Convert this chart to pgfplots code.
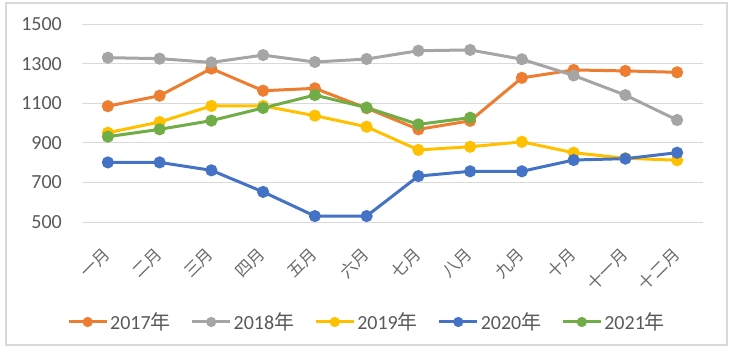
\documentclass[border=0pt]{standalone}
\usepackage{pgfplots}
\pgfplotsset{compat=1.18}
\usepackage{fontspec}
\setmainfont{Carlito}
\newfontfamily\cjk{Noto Sans CJK SC}
\definecolor{c17}{HTML}{ED7D31}
\definecolor{c18}{HTML}{A5A5A5}
\definecolor{c19}{HTML}{FFC000}
\definecolor{c20}{HTML}{4472C4}
\definecolor{c21}{HTML}{70AD47}
\definecolor{gridc}{HTML}{D9D9D9}
\definecolor{txt}{HTML}{595959}
\definecolor{txtl}{HTML}{6A6A6A}
\begin{document}
\begin{tikzpicture}
\path (-82pt,-135pt) rectangle (650pt,222pt);
\draw[gridc, line width=1.2pt] (-76pt,-123pt) rectangle (645pt,219pt);
\begin{axis}[
  scale only axis, width=621pt, height=198pt,
  xmin=-0.5, xmax=11.5, ymin=500, ymax=1500,
  ytick={500,700,...,1500},
  xtick={0,...,11},
  xticklabels={一月,二月,三月,四月,五月,六月,七月,八月,九月,十月,十一月,十二月},
  ymajorgrids, major grid style={draw=gridc, line width=1pt},
  axis line style={draw=none}, tick style={draw=none},
  /pgf/number format/assume math mode=true,
  /pgf/number format/1000 sep={},
  yticklabel style={font=\fontsize{20}{24}\selectfont, text=txt, anchor=east, inner sep=0pt, xshift=-20pt},
  xticklabel style={font=\cjk\fontsize{16.5}{19}\selectfont, text=txtl, xshift=-6pt, yshift=-24pt, rotate=45, anchor=north east, inner sep=0pt},
  clip=false,
  every axis plot/.append style={line width=3pt, mark=*, mark size=4.5pt},
  legend columns=5,
  legend style={draw=none, fill=none, at={(0.459,-0.505)}, anchor=center,
    font=\fontsize{20}{24}\selectfont, text=txt,
    /tikz/every even column/.append style={column sep=18pt}},
  legend image code/.code={\draw[mark repeat=2, mark phase=2, mark size=3.5pt] plot coordinates {(0pt,0pt) (19pt,0pt) (38pt,0pt)};},
]
\addplot[c17, mark options={fill=c17}] coordinates {(0,1085)(1,1138)(2,1275)(3,1163)(4,1175)(5,1075)(6,968)(7,1011)(8,1228)(9,1268)(10,1263)(11,1256)};
\addlegendentry{2017{\cjk 年}}
\addplot[c18, mark options={fill=c18}] coordinates {(0,1330)(1,1325)(2,1306)(3,1343)(4,1308)(5,1323)(6,1365)(7,1369)(8,1322)(9,1240)(10,1141)(11,1015)};
\addlegendentry{2018{\cjk 年}}
\addplot[c19, mark options={fill=c19}] coordinates {(0,951)(1,1005)(2,1086)(3,1086)(4,1037)(5,981)(6,864)(7,880)(8,905)(9,850)(10,822)(11,812)};
\addlegendentry{2019{\cjk 年}}
\addplot[c20, mark options={fill=c20}] coordinates {(0,801)(1,801)(2,761)(3,652)(4,530)(5,530)(6,732)(7,756)(8,756)(9,813)(10,820)(11,850)};
\addlegendentry{2020{\cjk 年}}
\addplot[c21, mark options={fill=c21}] coordinates {(0,931)(1,968)(2,1012)(3,1076)(4,1141)(5,1078)(6,993)(7,1027)};
\addlegendentry{2021{\cjk 年}}
\end{axis}
\end{tikzpicture}
\end{document}
